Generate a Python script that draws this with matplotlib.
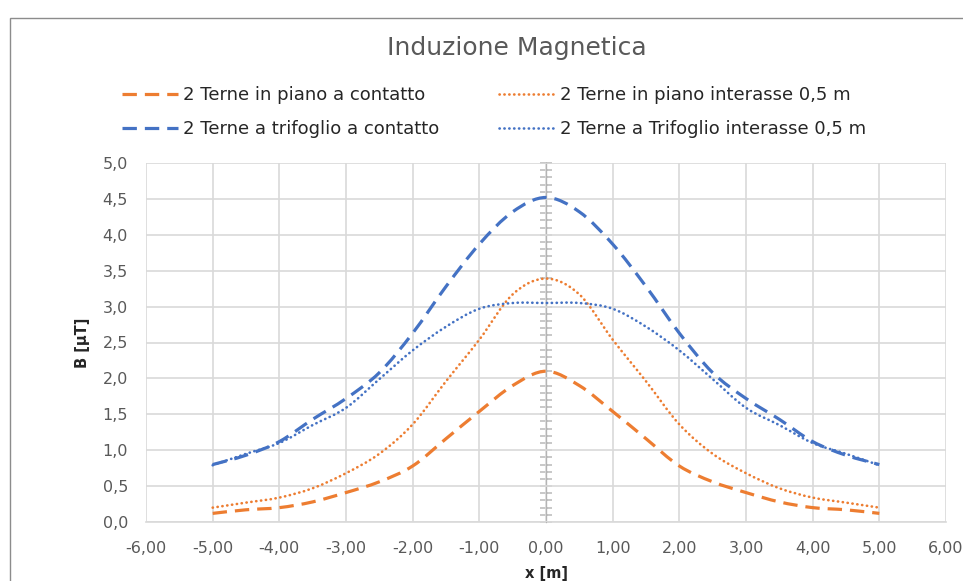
import numpy as np
import matplotlib
matplotlib.use("Agg")
import matplotlib.pyplot as plt
from matplotlib.patches import Rectangle, PathPatch
from matplotlib.path import Path
from matplotlib.lines import Line2D
from matplotlib.ticker import FuncFormatter, MultipleLocator, NullFormatter

# data (x in m, B in uT)
x = [-5.0, -4.5, -4.0, -3.5, -3.0, -2.5, -2.0, -1.5, -1.0, -0.5, 0.0,
     0.5, 1.0, 1.5, 2.0, 2.5, 3.0, 3.5, 4.0, 4.5, 5.0]
piano_contatto = [0.12, 0.17, 0.20, 0.28, 0.41, 0.56, 0.78, 1.16, 1.54, 1.90, 2.10,
                  1.90, 1.54, 1.16, 0.78, 0.56, 0.41, 0.28, 0.20, 0.17, 0.12]
piano_interasse = [0.20, 0.27, 0.34, 0.47, 0.68, 0.95, 1.36, 1.96, 2.54, 3.17, 3.39,
                   3.17, 2.54, 1.96, 1.36, 0.95, 0.68, 0.47, 0.34, 0.27, 0.20]
trifoglio_contatto = [0.80, 0.93, 1.12, 1.43, 1.72, 2.08, 2.63, 3.28, 3.87, 4.32, 4.52,
                      4.32, 3.87, 3.28, 2.63, 2.08, 1.72, 1.43, 1.12, 0.93, 0.80]
trifoglio_interasse = [0.79, 0.95, 1.10, 1.35, 1.59, 1.99, 2.39, 2.72, 2.97, 3.05, 3.05,
                       3.05, 2.97, 2.72, 2.39, 1.99, 1.59, 1.35, 1.10, 0.95, 0.79]

labels = ["2 Terne in piano a contatto", "2 Terne in piano interasse 0,5 m",
          "2 Terne a trifoglio a contatto", "2 Terne a Trifoglio interasse 0,5 m"]

ORANGE = "#ED7D31"
BLUE = "#4472C4"
GRID = "#D9D9D9"
TXT = "#595959"

plt.rcParams["font.family"] = ["DejaVu Sans"]


def smooth_path(xs, ys):
    """Excel-like smoothed line: cubic Bezier through the data points."""
    p = np.column_stack([xs, ys]).astype(float)
    ext = np.vstack([p[0], p, p[-1]])
    verts = [p[0]]
    codes = [Path.MOVETO]
    for i in range(len(p) - 1):
        a, b, c, d = ext[i], ext[i + 1], ext[i + 2], ext[i + 3]
        verts += [b + (c - a) / 6.0, c - (d - b) / 6.0, c]
        codes += [Path.CURVE4] * 3
    return Path(verts, codes)


fig = plt.figure(figsize=(9.63, 5.81), dpi=100)
ax = fig.add_axes([146 / 963, 1 - 522 / 581, 800 / 963, 359 / 581])

# chart-area border (cut at right / bottom like the screenshot)
fig.patches.append(Rectangle((10 / 963, -0.1), 1.2, 1 - 18 / 581 + 0.1,
                             transform=fig.transFigure, fill=False,
                             edgecolor="#8C8C8C", lw=1.0))

dash = (0, (4.5, 2.5))
dot = (0, (0.1, 1.75))
series = [
    (piano_contatto, ORANGE, 2.3, dash, "butt"),
    (piano_interasse, ORANGE, 1.9, dot, "round"),
    (trifoglio_contatto, BLUE, 2.3, dash, "butt"),
    (trifoglio_interasse, BLUE, 1.9, dot, "round"),
]
handles = []
for ys, col, lw, ls, cap in series:
    ax.add_patch(PathPatch(smooth_path(x, ys), fill=False, edgecolor=col, lw=lw,
                           linestyle=ls, capstyle=cap, zorder=3))
    handles.append(Line2D([], [], color=col, lw=lw, linestyle=ls,
                          dash_capstyle=cap))

ax.set_xlim(-6, 6)
ax.set_ylim(0, 5)
ax.xaxis.set_major_locator(MultipleLocator(1))
ax.yaxis.set_major_locator(MultipleLocator(0.5))
ax.xaxis.set_major_formatter(FuncFormatter(lambda v, p: f"{v:.2f}".replace(".", ",")))
ax.yaxis.set_major_formatter(FuncFormatter(lambda v, p: f"{v:.1f}".replace(".", ",")))
ax.grid(True, color=GRID, lw=1.2)
ax.set_axisbelow(True)
for s in ax.spines.values():
    s.set_visible(False)
ax.spines["bottom"].set_visible(True)
ax.spines["bottom"].set_color(GRID)
ax.spines["bottom"].set_linewidth(1.2)
ax.tick_params(axis="both", length=0, colors=TXT, labelsize=11.5)
ax.tick_params(axis="x", pad=14)
ax.tick_params(axis="y", pad=13)

# vertical axis at x = 0 with crossing minor ticks
sec = ax.secondary_yaxis(0.5)
sec.spines["left"].set_color("#BFBFBF")
sec.spines["left"].set_linewidth(1.2)
sec.yaxis.set_major_locator(MultipleLocator(0.5))
sec.yaxis.set_minor_locator(MultipleLocator(0.1))
sec.yaxis.set_major_formatter(NullFormatter())
sec.yaxis.set_minor_formatter(NullFormatter())
sec.tick_params(which="both", direction="inout", length=9, width=1.2,
                colors="#BFBFBF", labelleft=False, labelright=False)

ax.set_xlabel("x [m]", fontsize=10.5, fontweight="bold", color="#262626", labelpad=7)
ax.set_ylabel("B [µT]", fontsize=10.5, fontweight="bold", color="#262626", labelpad=9)

fig.text(517 / 963, 1 - 48 / 581, "Induzione Magnetica", ha="center", va="center",
         fontsize=18, color=TXT)

leg = fig.legend([handles[0], handles[2], handles[1], handles[3]],
                 [labels[0], labels[2], labels[1], labels[3]],
                 ncol=2, loc="center", bbox_to_anchor=(494 / 963, 1 - 112 / 581),
                 frameon=False, fontsize=13, handlelength=3.1, handletextpad=0.3,
                 columnspacing=3.3, labelspacing=0.9)
for t in leg.get_texts():
    t.set_color("#262626")

fig.savefig("out.png", dpi=100)
